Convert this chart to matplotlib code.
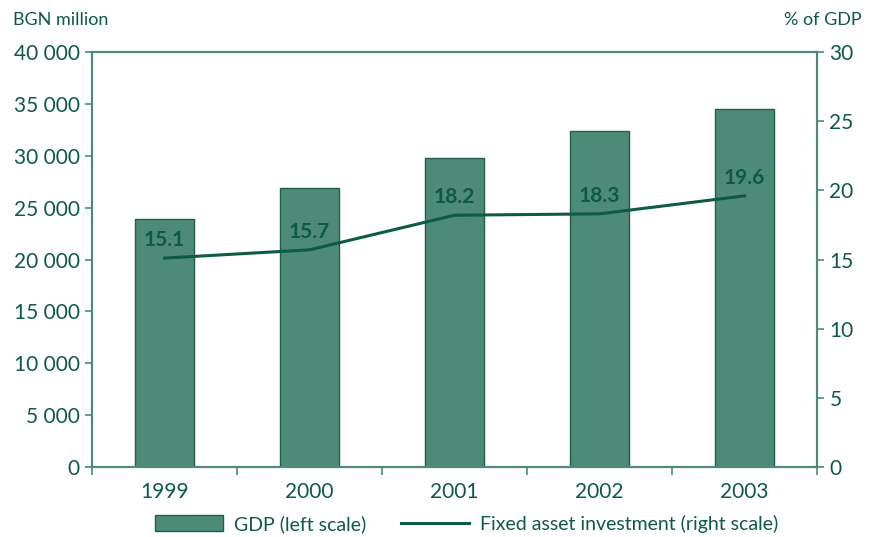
import matplotlib.pyplot as plt
from matplotlib.ticker import FuncFormatter
from matplotlib.patches import Patch
from matplotlib.lines import Line2D

years = ['1999', '2000', '2001', '2002', '2003']
gdp = [23900, 26900, 29800, 32400, 34500]
investment = [15.1, 15.7, 18.2, 18.3, 19.6]

dark = '#0d5a45'
bar_fill = '#4e8a78'
bar_edge = '#1f5f4b'
plt.rcParams['font.family'] = ['Lato', 'DejaVu Sans']

fig = plt.figure(figsize=(8.76, 5.37), dpi=100)
ax = fig.add_axes([92 / 876, 70 / 537, 725 / 876, 415 / 537])
ax2 = ax.twinx()

x = range(len(years))
ax.bar(x, gdp, width=0.41, color=bar_fill, edgecolor=bar_edge, linewidth=1.0)
ax.set_xlim(-0.5, len(years) - 0.5)
ax.set_ylim(0, 40000)
ax.set_yticks(range(0, 40001, 5000))
ax.yaxis.set_major_formatter(FuncFormatter(lambda v, p: f'{int(v):,}'.replace(',', ' ')))

ax2.plot(x, investment, color=dark, linewidth=2.2)
ax2.set_ylim(0, 30)
ax2.set_yticks(range(0, 31, 5))
for xi, v in zip(x, investment):
    ax2.annotate(f'{v}', (xi, v), xytext=(0, 13), textcoords='offset points',
                 ha='center', va='center', fontsize=15, fontweight='bold', color=dark)

# category boundary ticks, labels centred between them
ax.set_xticks([i - 0.5 for i in range(len(years) + 1)])
ax.set_xticklabels([])
ax.set_xticks(list(x), minor=True)
ax.set_xticklabels(years, minor=True)
ax.tick_params(axis='x', which='minor', length=0, pad=11)
ax.tick_params(axis='x', which='major', length=6, color=bar_fill, width=1.2)

for a in (ax, ax2):
    for s in a.spines.values():
        s.set_color(bar_fill)
        s.set_linewidth(1.5)
    a.tick_params(axis='y', length=5, color=bar_fill, width=1.2, pad=4)
    a.tick_params(labelsize=15, labelcolor=dark)
ax.tick_params(axis='x', which='minor', labelsize=15, labelcolor=dark)

fig.text(13 / 876, 1 - 20 / 537, 'BGN million', fontsize=13, color=dark, va='center')
fig.text(862 / 876, 1 - 20 / 537, '% of GDP', fontsize=13, color=dark, va='center', ha='right')

handles = [Patch(facecolor=bar_fill, edgecolor=bar_edge, label='GDP (left scale)'),
           Line2D([], [], color=dark, linewidth=2.2, label='Fixed asset investment (right scale)')]
fig.legend(handles=handles, loc='center', bbox_to_anchor=(0.533, 1 - 524 / 537), ncol=2,
           frameon=False, fontsize=14, labelcolor=dark, handlelength=3.5, handleheight=0.9,
           columnspacing=1.8, handletextpad=0.55, borderpad=0)

fig.savefig('out.png', dpi=100)
